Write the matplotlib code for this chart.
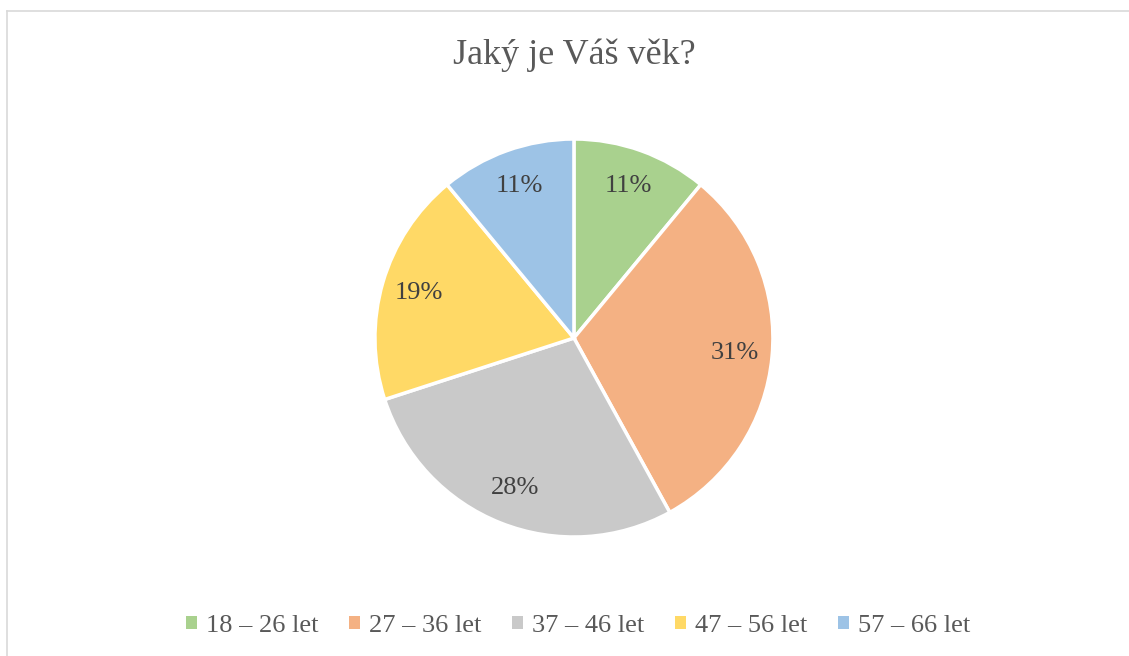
import matplotlib.pyplot as plt
from matplotlib.lines import Line2D
from matplotlib.patches import Patch

# data
kategorie = ['18 – 26 let', '27 – 36 let', '37 – 46 let', '47 – 56 let', '57 – 66 let']
podily = [11, 31, 28, 19, 11]
barvy = ['#A9D18E', '#F4B183', '#C9C9C9', '#FFD966', '#9DC3E6']

plt.rcParams['font.family'] = ['Liberation Serif', 'DejaVu Serif']
text_barva = '#595959'

fig = plt.figure(figsize=(11.29, 6.56), dpi=100)

# ramecek (jen levy a horni okraj je videt)
fig.add_artist(Line2D([7 / 1129, 7 / 1129], [0, 1 - 11 / 656], color='#D9D9D9', lw=1.2))
fig.add_artist(Line2D([7 / 1129, 1], [1 - 11 / 656, 1 - 11 / 656], color='#D9D9D9', lw=1.2))

ax = fig.add_axes([0.3321, 0.1814, 0.3525, 0.6067])
wedges, _, autotexts = ax.pie(
    podily, colors=barvy, startangle=90, counterclock=False,
    autopct='%d%%', pctdistance=0.81,
    wedgeprops=dict(edgecolor='white', linewidth=2.5),
    textprops=dict(color='#404040', fontsize=19))
ax.set_xlim(-1, 1)
ax.set_ylim(-1, 1)
ax.set_aspect('equal')

fig.text(574 / 1129, 1 - 55 / 656, 'Jaký je Váš věk?', ha='center', va='center',
         fontsize=26, color=text_barva)

handles = [Patch(facecolor=c, edgecolor='none') for c in barvy]
fig.legend(handles, kategorie, loc='center', bbox_to_anchor=(578 / 1129, 1 - 626 / 656),
           ncol=5, frameon=False, fontsize=19, labelcolor=text_barva,
           handlelength=0.42, handleheight=0.42, handletextpad=0.35, columnspacing=1.15)

plt.savefig('out.png', dpi=100)
